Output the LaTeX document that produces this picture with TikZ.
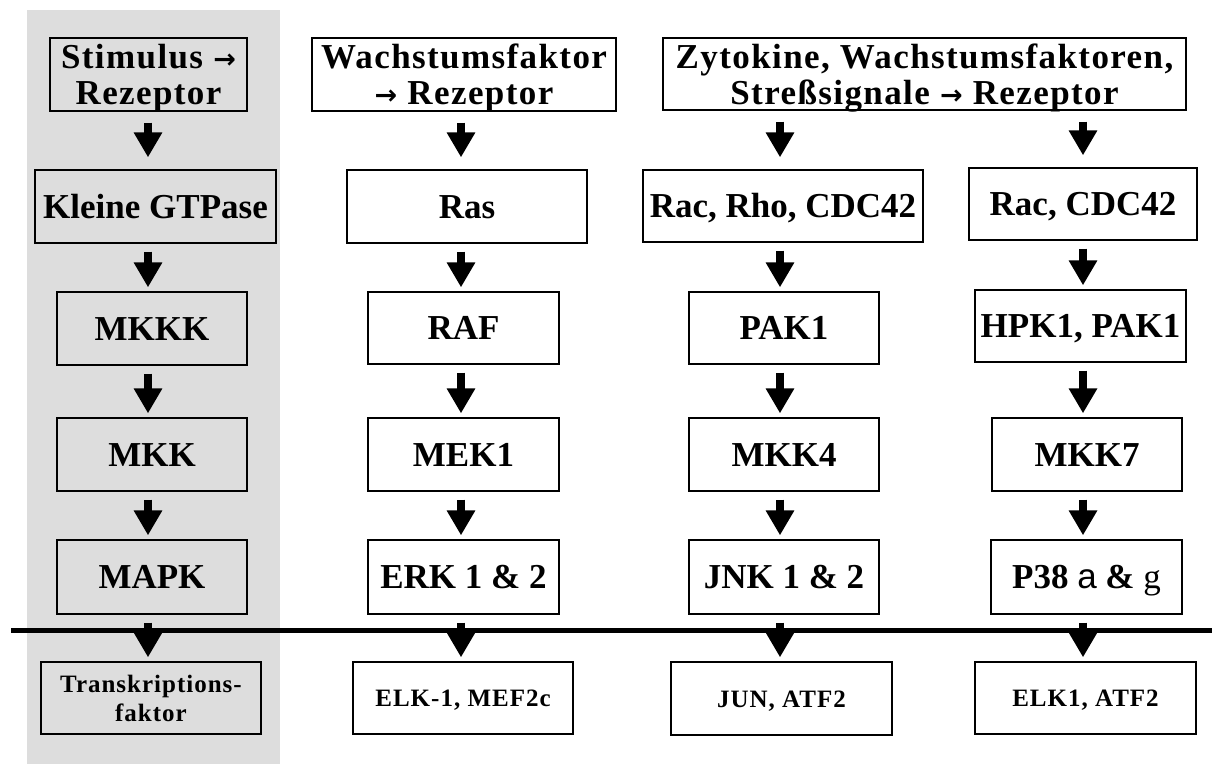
\documentclass[tikz,border=0pt]{standalone}
\usepackage{fontspec}
\setmainfont{Liberation Serif}
\newfontfamily\lsfont[LetterSpace=4.0]{Liberation Serif}
\newfontfamily\arrfont{DejaVu Sans}
\newfontfamily\alphafont{Liberation Sans}
\usetikzlibrary{arrows.meta}
\definecolor{bggray}{RGB}{221,221,221}
\newcommand{\rarr}{{\arrfont\bfseries\fontsize{27}{27}\selectfont →}}
\begin{document}
\begin{tikzpicture}[x=1pt,y=-1pt,
  box/.style={draw=black, line width=1.3pt, inner sep=0pt, align=center,
    font=\bfseries\fontsize{35}{36}\selectfont, text depth=0pt},
  one/.style={text height=23pt},
  two/.style={text depth=-5pt},
  small/.style={font=\lsfont\bfseries\fontsize{25}{29}\selectfont},
  wide/.style={font=\lsfont\bfseries\fontsize{35}{36}\selectfont},
  wbox/.style={box, fill=white},
  flow/.style={line width=8pt, -{Triangle[width=27pt,length=25pt]}, shorten <=8pt, shorten >=4pt},
  first/.style={shorten <=11pt, shorten >=12pt}]
\useasboundingbox (0,0) rectangle (1212,764);
\fill[bggray] (27,10) rectangle (280,764);

% column x positions for the arrows
\coordinate (c0) at (148,0);
\coordinate (c1) at (461,0);
\coordinate (c2) at (780,0);
\coordinate (c3) at (1083,0);

% column 0 (grey)
\node[box, wide, two, minimum width=197pt, minimum height=73pt] (s0) at (148.5,74.5) {Stimulus \rarr\\Rezeptor};
\node[box, one, minimum width=241pt, minimum height=73pt] (g0) at (155.5,206.5) {Kleine GTPase};
\node[box, one, minimum width=190pt, minimum height=73pt] (k0) at (152,328.5) {MKKK};
\node[box, one, minimum width=190pt, minimum height=73pt] (m0) at (152,454.5) {MKK};
\node[box, one, minimum width=190pt, minimum height=74pt] (p0) at (152,577) {MAPK};
\node[box, small, minimum width=220pt, minimum height=72pt] (t0) at (151,698) {Transkriptions-\\faktor};

% column 1
\node[wbox, wide, two, minimum width=304pt, minimum height=73pt] (s1) at (464,74.5) {Wachstumsfaktor\\\rarr\ Rezeptor};
\node[wbox, one, minimum width=240pt, minimum height=73pt] (g1) at (467,206.5) {Ras};
\node[wbox, one, minimum width=191pt, minimum height=72pt] (k1) at (463.5,328) {RAF};
\node[wbox, one, minimum width=191pt, minimum height=73pt] (m1) at (463.5,454.5) {MEK1};
\node[wbox, one, minimum width=191pt, minimum height=74pt] (p1) at (463.5,577) {ERK 1 \& 2};
\node[wbox, small, one, text height=17pt, minimum width=220pt, minimum height=72pt] (t1) at (463,698) {ELK-1, MEF2c};

% columns 2 and 3
\node[wbox, wide, two, minimum width=523pt, minimum height=72pt] (s2) at (924.5,74) {Zytokine, Wachstumsfaktoren,\\Streßsignale \rarr\ Rezeptor};
\node[wbox, one, minimum width=280pt, minimum height=72pt] (g2) at (783,206) {Rac, Rho, CDC42};
\node[wbox, one, minimum width=190pt, minimum height=72pt] (k2) at (784,328) {PAK1};
\node[wbox, one, minimum width=190pt, minimum height=73pt] (m2) at (784,454.5) {MKK4};
\node[wbox, one, minimum width=190pt, minimum height=74pt] (p2) at (784,577) {JNK 1 \& 2};
\node[wbox, small, one, text height=17pt, minimum width=221pt, minimum height=73pt] (t2) at (781.5,698.5) {JUN, ATF2};

\node[wbox, one, minimum width=228pt, minimum height=72pt] (g3) at (1083,204) {Rac, CDC42};
\node[wbox, one, minimum width=211pt, minimum height=72pt] (k3) at (1080.5,326) {HPK1, PAK1};
\node[wbox, one, minimum width=190pt, minimum height=73pt] (m3) at (1087,454.5) {MKK7};
\node[wbox, one, minimum width=191pt, minimum height=74pt] (p3) at (1086.5,577) {P38 {\alphafont\mdseries a} \& {\mdseries g}};
\node[wbox, small, one, text height=17pt, minimum width=221pt, minimum height=72pt] (t3) at (1085.5,698) {ELK1, ATF2};

% membrane line
\coordinate (lineL) at (11,630);
\coordinate (lineR) at (1212,630);
\draw[line width=5pt] (lineL) -- (lineR);

% arrows
\draw[flow, first] (s0.south -| c0) -- (g0.north -| c0);
\draw[flow] (g0.south -| c0) -- (k0.north -| c0);
\draw[flow] (k0.south -| c0) -- (m0.north -| c0);
\draw[flow] (m0.south -| c0) -- (p0.north -| c0);
\draw[flow] (p0.south -| c0) -- (t0.north -| c0);

\draw[flow, first] (s1.south -| c1) -- (g1.north -| c1);
\draw[flow] (g1.south -| c1) -- (k1.north -| c1);
\draw[flow] (k1.south -| c1) -- (m1.north -| c1);
\draw[flow] (m1.south -| c1) -- (p1.north -| c1);
\draw[flow] (p1.south -| c1) -- (t1.north -| c1);

\draw[flow, first] (s2.south -| c2) -- (g2.north -| c2);
\draw[flow] (g2.south -| c2) -- (k2.north -| c2);
\draw[flow] (k2.south -| c2) -- (m2.north -| c2);
\draw[flow] (m2.south -| c2) -- (p2.north -| c2);
\draw[flow] (p2.south -| c2) -- (t2.north -| c2);

\draw[flow, first] (s2.south -| c3) -- (g3.north -| c3);
\draw[flow] (g3.south -| c3) -- (k3.north -| c3);
\draw[flow] (k3.south -| c3) -- (m3.north -| c3);
\draw[flow] (m3.south -| c3) -- (p3.north -| c3);
\draw[flow] (p3.south -| c3) -- (t3.north -| c3);
\end{tikzpicture}
\end{document}
